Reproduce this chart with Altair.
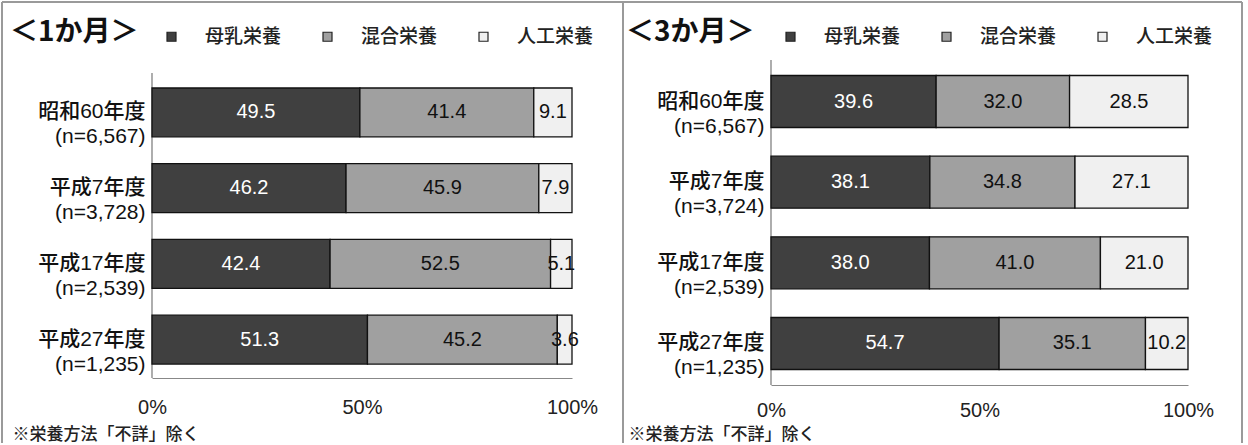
import altair as alt
import pandas as pd

# ---------------- data ----------------
types = ["母乳栄養", "混合栄養", "人工栄養"]
fill_colors = ["#404040", "#a0a0a0", "#f0f0f0"]

periods_1m = ["昭和60年度|(n=6,567)", "平成7年度|(n=3,728)", "平成17年度|(n=2,539)", "平成27年度|(n=1,235)"]
breast_1m = [49.5, 46.2, 42.4, 51.3]
mixed_1m = [41.4, 45.9, 52.5, 45.2]
formula_1m = [9.1, 7.9, 5.1, 3.6]

periods_3m = ["昭和60年度|(n=6,567)", "平成7年度|(n=3,724)", "平成17年度|(n=2,539)", "平成27年度|(n=1,235)"]
breast_3m = [39.6, 38.1, 38.0, 54.7]
mixed_3m = [32.0, 34.8, 41.0, 35.1]
formula_3m = [28.5, 27.1, 21.0, 10.2]

panel_titles = ["＜1か月＞", "＜3か月＞"]
footnote = "※栄養方法「不詳」除く"
x_ticks = [0, 50, 100]

FONT = "Liberation Sans, Noto Sans CJK JP, sans-serif"
CJK = "Noto Sans CJK JP, sans-serif"
FRAME = "#9a9a9a"


def long_df(periods, series):
    rows = []
    for i, p in enumerate(periods):
        for k, t in enumerate(types):
            rows.append({"period": p, "type": t, "order": k, "value": series[k][i]})
    return pd.DataFrame(rows)


def panel(periods, series, title, width, height, pad_outer, align, label_pad_x,
          foot_y, title_x, frame_left, frame_right, draw_left_edge, axis_top):
    df = long_df(periods, series)
    base = alt.Chart(df).transform_stack(
        stack="value", groupby=["period"], as_=["x0", "x1"],
        sort=[alt.SortField("order", order="ascending")]
    ).transform_calculate(mid="(datum.x0 + datum.x1) / 2")

    yenc = alt.Y(
        "period:N", sort=periods,
        scale=alt.Scale(paddingInner=0.355, paddingOuter=pad_outer, align=align),
        axis=alt.Axis(title=None, ticks=False, tickSize=0, labelPadding=7,
                      labelExpr="split(datum.label, '|')", labelFont=FONT,
                      labelFontSize=21, labelFontWeight=500, labelLineHeight=25,
                      labelColor="#111", labelAlign="right", labelBaseline="middle",
                      domain=False),
    )
    xenc = alt.X(
        "x0:Q", scale=alt.Scale(domain=[0, 100], nice=False, clamp=True),
        axis=alt.Axis(values=x_ticks, labelExpr="datum.value + '%'", ticks=False,
                      tickSize=0, grid=False, labelPadding=label_pad_x, labelFlush=False,
                      labelFont=FONT, labelFontSize=20, labelColor="#222",
                      domainColor="#888", domainWidth=1.2,
                      title=footnote, titleFont=CJK, titleFontSize=17,
                      titleFontWeight=500, titleColor="#222",
                      titleAnchor="start", titleAlign="left", titleBaseline="middle",
                      titleX=title_x, titleY=foot_y),
    )

    bars = base.mark_bar(stroke="#111", strokeWidth=1.3).encode(
        y=yenc, x=xenc, x2="x1:Q",
        color=alt.Color("type:N", scale=alt.Scale(domain=types, range=fill_colors),
                        legend=alt.Legend(
                            title=None, orient="none", direction="horizontal",
                            legendX=10, legendY=-33, padding=0,
                            symbolType="square", symbolSize=81,
                            symbolStrokeColor="#222", symbolStrokeWidth=1.2,
                            labelFont=CJK, labelFontSize=19, labelFontWeight=500,
                            labelColor="#222", labelOffset=24, columnPadding=36)),
    )
    labels = base.mark_text(font=FONT, fontSize=20, baseline="middle").encode(
        y=alt.Y("period:N", sort=periods),
        x=alt.X("mid:Q"),
        text=alt.Text("value:Q", format=".1f"),
        color=alt.condition("datum.type === '母乳栄養'", alt.value("#ffffff"), alt.value("#111111")),
    )
    one = pd.DataFrame({"t": [title]})
    ttl = alt.Chart(one).mark_text(font=CJK, fontSize=28, fontWeight="bold",
                                   align="left", baseline="middle", color="#111").encode(
        x=alt.value(title_x - 2), y=alt.value(-27), text="t:N")
    yaxis_line = alt.Chart(one).mark_rule(color="#777", strokeWidth=1.2).encode(
        x=alt.value(0), y=alt.value(axis_top), y2=alt.value(height))
    frame_top = alt.Chart(one).mark_rule(color=FRAME, strokeWidth=2).encode(
        x=alt.value(frame_left), x2=alt.value(frame_right), y=alt.value(-58))
    frame_right_edge = alt.Chart(one).mark_rule(color=FRAME, strokeWidth=2).encode(
        x=alt.value(frame_right), y=alt.value(-58), y2=alt.value(383))
    layers = [frame_top, frame_right_edge]
    if draw_left_edge:
        layers.append(alt.Chart(one).mark_rule(color=FRAME, strokeWidth=2).encode(
            x=alt.value(frame_left), y=alt.value(-58), y2=alt.value(383)))
    layers += [yaxis_line, bars, labels, ttl]
    return alt.layer(*layers).properties(width=width, height=height)


left = panel(periods_1m, [breast_1m, mixed_1m, formula_1m], panel_titles[0],
             420, 318, 0.277, 0.667, 19, 56, -140, -150, 471, True, 13)
right = panel(periods_3m, [breast_3m, mixed_3m, formula_3m], panel_titles[1],
              417, 325, 0.192, 0.5, 15, 49, -143, -148, 471, False, 0)

chart = alt.hconcat(left, right, spacing=199, bounds="flush").resolve_scale(
    color="independent", y="independent", x="independent"
).resolve_legend(color="independent").properties(
    padding={"left": 1, "top": 1, "right": 0, "bottom": 0},
    background="white",
).configure_view(stroke=None)

chart.save("out.html", embed_options={"renderer": "svg", "actions": False})
